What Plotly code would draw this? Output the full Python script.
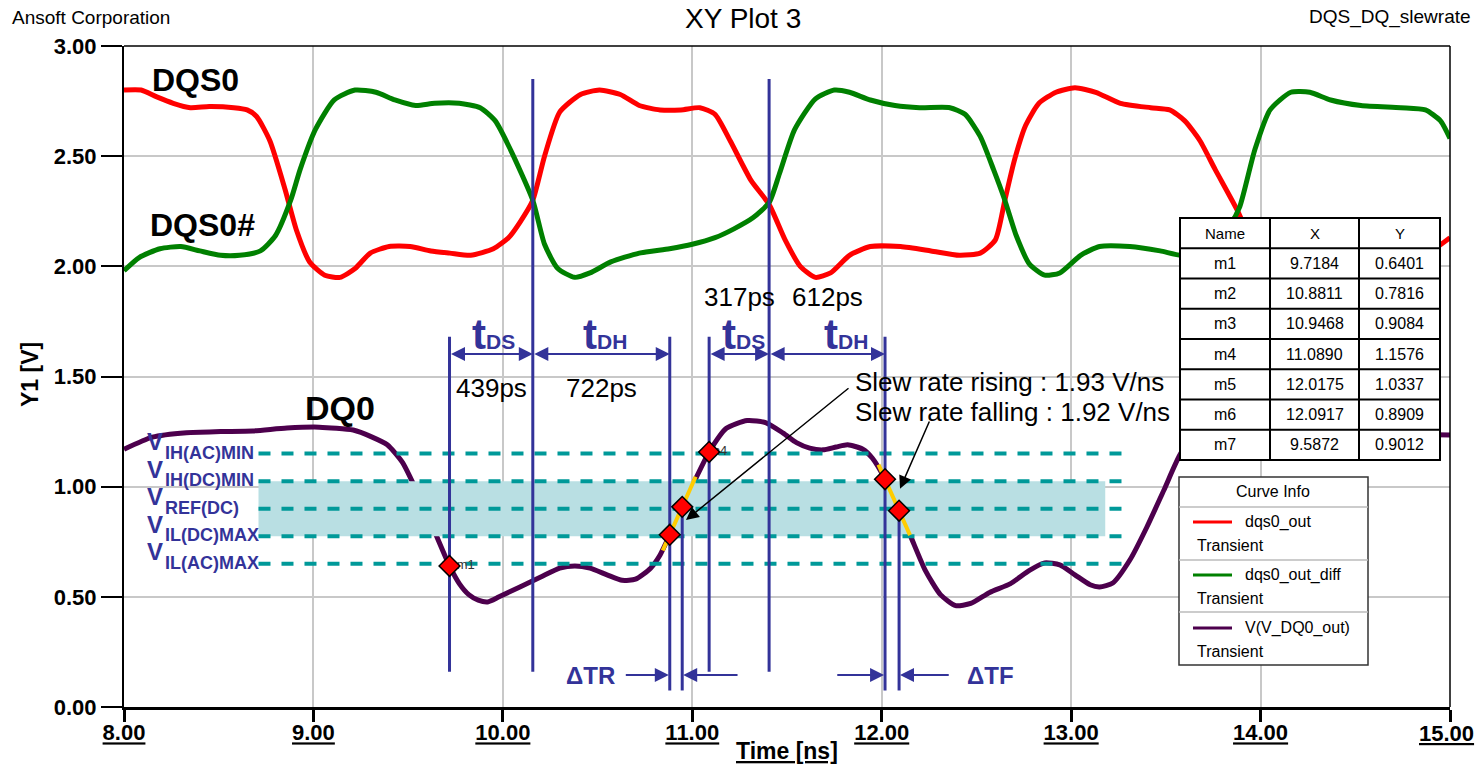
import plotly.graph_objects as go

# ---------------- data ----------------
# DQS0 (single ended strobe), time in ns, voltage in V
dqs_t = [8.00, 8.09, 8.17, 8.26, 8.35, 8.45, 8.58, 8.65, 8.70, 8.77, 8.85, 8.91, 8.98, 9.06, 9.14,
         9.22, 9.30, 9.40, 9.51, 9.62, 9.72, 9.83, 9.95, 10.03, 10.09, 10.158, 10.22, 10.30, 10.41,
         10.51, 10.62, 10.72, 10.83, 10.94, 11.04, 11.12, 11.20, 11.31, 11.406, 11.49, 11.57, 11.65,
         11.73, 11.83, 11.94, 12.10, 12.26, 12.41, 12.52, 12.60, 12.65, 12.70, 12.76, 12.83, 12.92,
         13.02, 13.13, 13.26, 13.42, 13.52, 13.60, 13.68, 13.76, 13.88, 13.98, 14.08, 14.18, 14.28,
         14.38, 14.50, 14.65, 14.80, 14.90, 15.00]
dqs_v = [2.80, 2.80, 2.77, 2.74, 2.72, 2.725, 2.72, 2.71, 2.68, 2.57, 2.35, 2.165, 2.02, 1.96, 1.95,
         1.99, 2.06, 2.09, 2.09, 2.07, 2.06, 2.05, 2.08, 2.13, 2.20, 2.30, 2.50, 2.70, 2.78,
         2.80, 2.78, 2.73, 2.71, 2.71, 2.72, 2.69, 2.57, 2.39, 2.28, 2.12, 2.00, 1.95,
         1.97, 2.05, 2.09, 2.09, 2.07, 2.05, 2.06, 2.12, 2.30, 2.48, 2.64, 2.74, 2.79,
         2.81, 2.79, 2.74, 2.72, 2.71, 2.66, 2.57, 2.44, 2.25, 2.06, 1.97, 1.95, 1.99,
         2.06, 2.08, 2.07, 2.05, 2.07, 2.13]

# DQS0# (complementary strobe)
dqsn_t = [8.00, 8.08, 8.19, 8.30, 8.40, 8.51, 8.61, 8.72, 8.80, 8.88, 8.93, 9.01, 9.11, 9.22, 9.33,
          9.43, 9.54, 9.64, 9.77, 9.88, 9.96, 10.04, 10.158, 10.22, 10.29, 10.38, 10.46, 10.57,
          10.72, 10.88, 11.00, 11.12, 11.22, 11.32, 11.406, 11.46, 11.54, 11.65, 11.75, 11.83,
          11.94, 12.07, 12.20, 12.36, 12.44, 12.52, 12.59, 12.65, 12.71, 12.78, 12.86, 12.94,
          13.05, 13.15, 13.31, 13.47, 13.58, 13.68, 13.76, 13.84, 13.89, 13.97, 14.05, 14.16,
          14.26, 14.37, 14.53, 14.74, 14.87, 14.95, 15.00]
dqsn_v = [1.98, 2.04, 2.08, 2.09, 2.07, 2.05, 2.05, 2.07, 2.14, 2.30, 2.44, 2.62, 2.755, 2.80, 2.79,
          2.755, 2.73, 2.74, 2.74, 2.72, 2.66, 2.53, 2.30, 2.10, 1.99, 1.95, 1.97, 2.02,
          2.06, 2.08, 2.10, 2.13, 2.17, 2.22, 2.29, 2.42, 2.62, 2.76, 2.80, 2.79,
          2.755, 2.73, 2.72, 2.72, 2.69, 2.59, 2.44, 2.30, 2.14, 2.01, 1.96, 1.97,
          2.05, 2.09, 2.09, 2.07, 2.05, 2.06, 2.11, 2.19, 2.27, 2.53, 2.71, 2.79,
          2.79, 2.755, 2.73, 2.72, 2.71, 2.66, 2.58]

# DQ0 data line
dq_t = [8.00, 8.15, 8.33, 8.51, 8.68, 8.86, 9.03, 9.21, 9.31, 9.39, 9.47, 9.5872, 9.7184, 9.77,
        9.82, 9.87, 9.92, 9.98, 10.09, 10.20, 10.30, 10.38, 10.46, 10.55, 10.63, 10.70, 10.78,
        10.83, 10.8811, 10.9468, 11.02, 11.089, 11.18, 11.29, 11.39, 11.48, 11.55, 11.62, 11.69,
        11.76, 11.82, 11.90, 11.95, 12.0175, 12.0917, 12.15, 12.23, 12.31, 12.39, 12.47, 12.57,
        12.68, 12.78, 12.86, 12.94, 13.02, 13.10, 13.15, 13.22, 13.31, 13.40, 13.49, 13.58,
        13.68, 13.80, 14.00, 14.30, 14.60, 15.00]
dq_v = [1.17, 1.225, 1.245, 1.25, 1.253, 1.266, 1.27, 1.257, 1.225, 1.19, 1.11, 0.9012, 0.6401, 0.56,
        0.51, 0.485, 0.477, 0.50, 0.545, 0.59, 0.63, 0.64, 0.63, 0.60, 0.575, 0.58, 0.63,
        0.69, 0.7816, 0.9084, 1.04, 1.1576, 1.265, 1.30, 1.29, 1.243, 1.20, 1.175, 1.167,
        1.18, 1.19, 1.17, 1.13, 1.0337, 0.8909, 0.78, 0.62, 0.51, 0.46, 0.47, 0.52,
        0.56, 0.62, 0.654, 0.645, 0.60, 0.555, 0.545, 0.563, 0.667, 0.817, 0.985, 1.153,
        1.25, 1.29, 1.28, 1.25, 1.24, 1.235]

# measurement markers
marker_names = ["m1", "m2", "m3", "m4", "m5", "m6", "m7"]
marker_x = [9.7184, 10.8811, 10.9468, 11.0890, 12.0175, 12.0917, 9.5872]
marker_y = [0.6401, 0.7816, 0.9084, 1.1576, 1.0337, 0.8909, 0.9012]

# SSTL input thresholds
level_names = ["IH(AC)MIN", "IH(DC)MIN", "REF(DC)", "IL(DC)MAX", "IL(AC)MAX"]
level_values = [1.15, 1.025, 0.90, 0.775, 0.65]

# DQS / DQS# crossing instants
dqs_cross = [10.158, 11.4055]

timing_labels = ["439ps", "722ps", "317ps", "612ps"]
slew_labels = ["Slew rate rising : 1.93 V/ns", "Slew rate falling : 1.92 V/ns"]

curve_names = ["dqs0_out", "dqs0_out_diff", "V(V_DQ0_out)"]
curve_colors = ["#ff0000", "#008000", "#4d004d"]

x_ticks = [8, 9, 10, 11, 12, 13, 14, 15]
y_ticks = [0.0, 0.5, 1.0, 1.5, 2.0, 2.5, 3.0]

# ---------------- styling ----------------
FONT = "Liberation Sans, Arial, sans-serif"
NAVY = "#333399"
TEAL = "#009999"
BAND = "#b9dfe3"
YELLOW = "#ffcc00"

W, H = 1475, 765
# plot area in pixels: left 124, right 1450, top 46, bottom 707
PL, PR, PT, PB = 124, 1450, 46, 707


def fx(px):
    return (px - PL) / (PR - PL)


def fy(py):
    return (PB - py) / (PB - PT)


def dx(px):
    return 8.0 + (px - PL) * 7.0 / (PR - PL)


def dy(py):
    return (PB - py) * 3.0 / (PB - PT)


fig = go.Figure()

for t, v, c in [(dqs_t, dqs_v, curve_colors[0]), (dqsn_t, dqsn_v, curve_colors[1]),
                (dq_t, dq_v, curve_colors[2])]:
    fig.add_trace(go.Scatter(x=t, y=v, mode="lines", hoverinfo="skip",
                             line=dict(color=c, width=5, shape="spline", smoothing=0.6)))

# input threshold window between VIL(DC) and VIH(DC)
vih_dc, vil_dc = level_values[1], level_values[3]
bx0, bx1 = 8.71, 13.18
fig.add_trace(go.Scatter(x=[bx0, bx1, bx1, bx0, bx0], y=[vil_dc, vil_dc, vih_dc, vih_dc, vil_dc],
                         mode="lines", fill="toself", fillcolor=BAND, line=dict(width=0),
                         hoverinfo="skip"))

# dashed threshold levels
lx, ly = [], []
for lv in level_values:
    lx += [8.71, 13.27, None]
    ly += [lv, lv, None]
fig.add_trace(go.Scatter(x=lx, y=ly, mode="lines", hoverinfo="skip",
                         line=dict(color=TEAL, width=4, dash="12px,11px")))

# vertical timing references
m = dict(zip(marker_names, zip(marker_x, marker_y)))
vlines = [
    (m["m1"][0], 0.16, 1.68),
    (dqs_cross[0], 0.16, 2.85),
    (m["m2"][0], 0.075, 1.68),
    (m["m3"][0], 0.075, m["m3"][1]),
    (m["m4"][0], 0.16, 1.68),
    (dqs_cross[1], 0.16, 2.85),
    (m["m5"][0], 0.075, 1.68),
    (m["m6"][0], 0.075, m["m6"][1]),
]
vx, vy = [], []
for xv, y0, y1 in vlines:
    vx += [xv, xv, None]
    vy += [y0, y1, None]
fig.add_trace(go.Scatter(x=vx, y=vy, mode="lines", hoverinfo="skip",
                         line=dict(color=NAVY, width=3)))

# slew-rate tangent lines through the marker pairs
rise_k = (m["m3"][1] - m["m2"][1]) / (m["m3"][0] - m["m2"][0])
fall_k = (m["m6"][1] - m["m5"][1]) / (m["m6"][0] - m["m5"][0])
ry = [0.71, 1.045]
rx = [m["m2"][0] + (v - m["m2"][1]) / rise_k for v in ry]
fyv = [1.10, 0.78]
fxv = [m["m5"][0] + (v - m["m5"][1]) / fall_k for v in fyv]
fig.add_trace(go.Scatter(x=rx + [None] + fxv, y=ry + [None] + fyv, mode="lines",
                         hoverinfo="skip", line=dict(color=YELLOW, width=4)))

# marker labels (partly hidden under the markers)
fig.add_trace(go.Scatter(x=[m["m1"][0], m["m4"][0]], y=[m["m1"][1], m["m4"][1]],
                         mode="text", text=["  m1", "m4"], textposition="middle right",
                         textfont=dict(family=FONT, size=13, color="#333333"), hoverinfo="skip"))

# markers (m7 lies inside the threshold window)
fig.add_trace(go.Scatter(x=marker_x[:6], y=marker_y[:6], mode="markers", hoverinfo="skip",
                         marker=dict(symbol="diamond", size=16, color="#ff0000",
                                     line=dict(color="black", width=1.5))))

ann = []


def text(x, y, s, size, color="black", bold=False, xanchor="center", yanchor="middle",
         xref="x", yref="y", **kw):
    ann.append(dict(x=x, y=y, text=s, xref=xref, yref=yref, showarrow=False,
                    xanchor=xanchor, yanchor=yanchor,
                    font=dict(family=FONT, size=size, color=color,
                              weight="bold" if bold else "normal"), **kw))


def arrow(xt, yt, xs, ys, color, width, size, both=False):
    ann.append(dict(x=xt, y=yt, ax=xs, ay=ys, xref="x", yref="y", axref="x", ayref="y",
                    text="", showarrow=True, arrowhead=2, arrowsize=size, arrowwidth=width,
                    arrowcolor=color, standoff=0, startstandoff=0,
                    arrowside="end+start" if both else "end",
                    startarrowhead=2, startarrowsize=size))


# header texts
text(fx(10), fy(17), "Ansoft Corporation", 19, xanchor="left", xref="paper", yref="paper")
text(fx(743), fy(18), "XY Plot 3", 28, xref="paper", yref="paper")
text(fx(1473), fy(17), "DQS_DQ_slewrate", 19, xanchor="right", xref="paper", yref="paper")

# axis titles
text(fx(30), fy(375), "Y1 [V]", 23, bold=True, xref="paper", yref="paper", textangle=-90)
ann.append(dict(x=fx(787), y=fy(751), xref="paper", yref="paper", text="Time [ns]",
                showarrow=False, xanchor="center", yanchor="middle",
                font=dict(family=FONT, size=23, color="black", weight="bold",
                          lineposition="under")))

# last x tick label, kept inside the page edge
ann.append(dict(x=fx(1475), y=fy(733), xref="paper", yref="paper",
                text=f"{x_ticks[-1]:.2f}", showarrow=False, xanchor="right",
                yanchor="middle", borderpad=0,
                font=dict(family=FONT, size=22, color="black", weight="bold",
                          lineposition="under")))

# curve names
text(dx(150), dy(80), "DQS0", 32, bold=True, xanchor="left")
text(dx(148), dy(225), "DQS0#", 32, bold=True, xanchor="left")
text(dx(303), dy(408), "DQ0", 34, bold=True, xanchor="left")

# threshold labels
for name, lv in zip(level_names, level_values):
    text(dx(145), lv, "V", 24, color=NAVY, bold=True, xanchor="left", yshift=12)
    text(dx(163), lv, name, 18, color=NAVY, bold=True, xanchor="left", yshift=1)

# setup / hold arrows
arrow_y = 1.602
spans = [(m["m1"][0], dqs_cross[0]), (dqs_cross[0], m["m2"][0]),
         (m["m4"][0], dqs_cross[1]), (dqs_cross[1], m["m5"][0])]
for a, b in spans:
    arrow(b, arrow_y, a, arrow_y, NAVY, 2, 1.4, both=True)

subs = ["DS", "DH", "DS", "DH"]
t_shift = [2, 4, 4, 19]
for (a, b), sub, sh in zip(spans, subs, t_shift):
    text((a + b) / 2, dy(334), f"t<span style='font-size:21px'>{sub}</span>", 42,
         color=NAVY, bold=True, xshift=sh, borderpad=0)

label_y = [dy(388), dy(388), dy(297), dy(297)]
for (a, b), lab, yv in zip(spans, timing_labels, label_y):
    text((a + b) / 2, yv, lab, 26)

# slew-rate annotations
text(dx(853), dy(382), slew_labels[0], 26, xanchor="left")
text(dx(853), dy(412), slew_labels[1], 26, xanchor="left")
arrow(m["m3"][0] + 0.02, m["m3"][1] - 0.06, dx(850), dy(387), "black", 1.5, 1.7)
arrow(m["m6"][0] + 0.005, m["m6"][1] + 0.1, dx(930), dy(420), "black", 1.5, 1.7)

# delta-time arrows
dty = 0.145
arrow(m["m2"][0] - 0.005, dty, m["m2"][0] - 0.24, dty, NAVY, 2, 1.4)
arrow(m["m3"][0] + 0.005, dty, m["m3"][0] + 0.30, dty, NAVY, 2, 1.4)
arrow(m["m5"][0] - 0.005, dty, m["m5"][0] - 0.26, dty, NAVY, 2, 1.4)
arrow(m["m6"][0] + 0.005, dty, m["m6"][0] + 0.27, dty, NAVY, 2, 1.4)
text(dx(590), dty, "ΔTR", 24, color=NAVY, bold=True)
text(dx(990), dty, "ΔTF", 24, color=NAVY, bold=True)

shapes = []
# top and right frame of the plot area
shapes.append(dict(type="line", xref="paper", yref="paper", x0=0, x1=1, y0=1, y1=1,
                   line=dict(color="black", width=1.5), layer="above"))
shapes.append(dict(type="line", xref="paper", yref="paper", x0=1, x1=1, y0=0, y1=1,
                   line=dict(color="black", width=1.5), layer="above"))

# marker table
col_edges = [1180, 1270, 1359, 1440]
row_h = 30.25
top = 218
n_rows = len(marker_names) + 1
shapes.append(dict(type="rect", xref="paper", yref="paper", x0=fx(col_edges[0]),
                   x1=fx(col_edges[-1]), y0=fy(top + n_rows * row_h), y1=fy(top),
                   fillcolor="white", line=dict(color="black", width=2), layer="above"))
for i in range(1, n_rows):
    yy = fy(top + i * row_h)
    shapes.append(dict(type="line", xref="paper", yref="paper", x0=fx(col_edges[0]),
                       x1=fx(col_edges[-1]), y0=yy, y1=yy,
                       line=dict(color="black", width=2), layer="above"))
for c in col_edges[1:-1]:
    shapes.append(dict(type="line", xref="paper", yref="paper", x0=fx(c), x1=fx(c),
                       y0=fy(top + n_rows * row_h), y1=fy(top),
                       line=dict(color="black", width=2), layer="above"))
rows = [["Name", "X", "Y"]] + [[n, f"{x:.4f}", f"{y:.4f}"]
                               for n, x, y in zip(marker_names, marker_x, marker_y)]
for r, row in enumerate(rows):
    yc = fy(top + (r + 0.5) * row_h)
    for ci, cell in enumerate(row):
        xc = fx((col_edges[ci] + col_edges[ci + 1]) / 2)
        text(xc, yc, cell, 16 if r else 15, xref="paper", yref="paper")

# curve info box
lg_l, lg_r, lg_t, lg_b = 1179, 1368, 477, 665
shapes.append(dict(type="rect", xref="paper", yref="paper", x0=fx(lg_l), x1=fx(lg_r),
                   y0=fy(lg_b), y1=fy(lg_t), fillcolor="white",
                   line=dict(color="#333333", width=1.5), layer="above"))
for sep in [507, 560, 612]:
    shapes.append(dict(type="line", xref="paper", yref="paper", x0=fx(lg_l), x1=fx(lg_r),
                       y0=fy(sep), y1=fy(sep), line=dict(color="#bbbbbb", width=1.5),
                       layer="above"))
text(fx(1273), fy(492), "Curve Info", 16, xref="paper", yref="paper")
for i, (nm, col) in enumerate(zip(curve_names, curve_colors)):
    base = 522 + i * 53
    shapes.append(dict(type="line", xref="paper", yref="paper", x0=fx(1193), x1=fx(1232),
                       y0=fy(base), y1=fy(base), line=dict(color=col, width=3), layer="above"))
    text(fx(1243), fy(base), nm, 16, xanchor="left", xref="paper", yref="paper")
    text(fx(1195), fy(base + 23), "Transient", 16, xanchor="left", xref="paper", yref="paper")

tickfont = dict(family=FONT, size=22, color="black", weight="bold")
fig.update_layout(
    width=W, height=H, autosize=False,
    margin=dict(l=PL, r=W - PR, t=PT, b=H - PB, pad=0),
    paper_bgcolor="white", plot_bgcolor="white",
    showlegend=False,
    font=dict(family=FONT, color="black"),
    annotations=ann,
    shapes=shapes,
    xaxis=dict(range=[8, 15], tickvals=x_ticks,
               ticktext=[f"{v:.2f}" for v in x_ticks[:-1]] + [""],
               showgrid=True, gridcolor="#c8c8c8", gridwidth=1.5, zeroline=False,
               ticks="outside", ticklen=12, tickwidth=3, tickcolor="black",
               showline=True, linecolor="black", linewidth=3, ticklabelstandoff=-8,
               tickfont=dict(tickfont, lineposition="under")),
    yaxis=dict(range=[0, 3], tickvals=y_ticks, ticktext=[f"{v:.2f}" for v in y_ticks],
               showgrid=True, gridcolor="#c8c8c8", gridwidth=1.5, zeroline=False,
               ticks="outside", ticklen=21, tickwidth=2, tickcolor="black",
               showline=True, linecolor="black", linewidth=2, tickfont=tickfont),
)

fig.write_html("out.html", config={"displayModeBar": False, "responsive": False})
